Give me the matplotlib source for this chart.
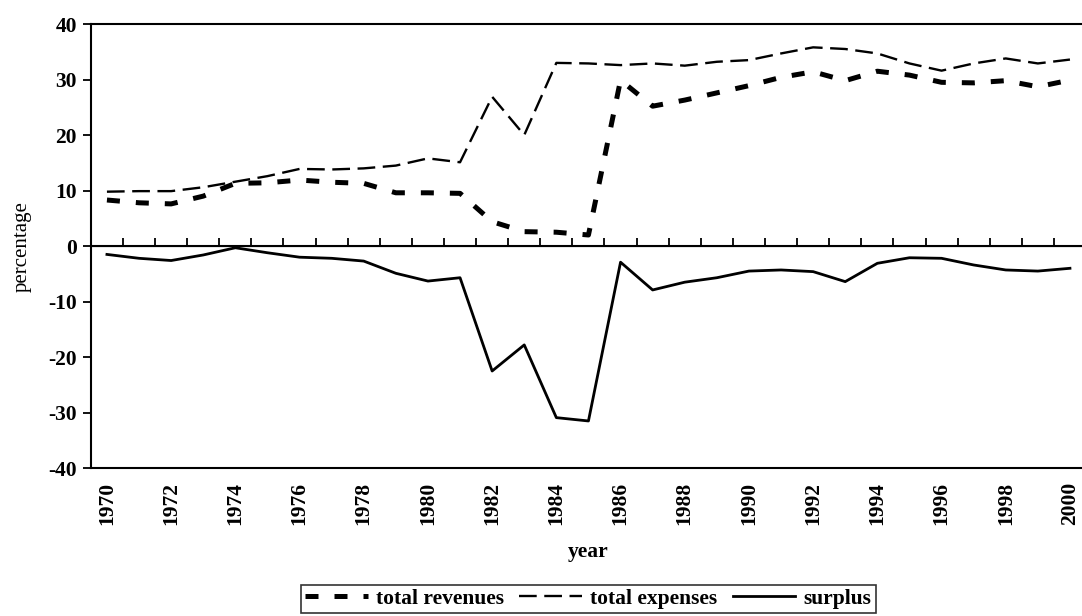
import matplotlib
matplotlib.use("Agg")
import matplotlib.pyplot as plt
import numpy as np

years = list(range(1970, 2001))
total_revenues = [8.3, 7.8, 7.6, 9.0, 11.3, 11.4, 11.9, 11.5, 11.3, 9.6,
                  9.6, 9.5, 4.4, 2.6, 2.5, 2.0, 29.9, 25.2, 26.3, 27.6,
                  28.9, 30.4, 31.4, 29.8, 31.5, 30.8, 29.5, 29.4, 29.8, 28.7, 29.9]
total_expenses = [9.8, 9.9, 9.9, 10.6, 11.6, 12.6, 13.9, 13.8, 14.0, 14.5,
                  15.8, 15.1, 26.9, 20.0, 33.0, 32.9, 32.6, 32.9, 32.5, 33.2,
                  33.5, 34.7, 35.8, 35.5, 34.7, 32.9, 31.6, 32.9, 33.8, 32.9, 33.6]
surplus = [-1.5, -2.2, -2.6, -1.6, -0.3, -1.2, -2.0, -2.2, -2.7, -4.9,
           -6.3, -5.7, -22.5, -17.8, -30.9, -31.5, -2.9, -7.9, -6.5, -5.7,
           -4.5, -4.3, -4.6, -6.4, -3.1, -2.1, -2.2, -3.4, -4.3, -4.5, -4.0]
year_labels = [str(y) for y in range(1970, 2001, 2)]
y_ticks = [-40, -30, -20, -10, 0, 10, 20, 30, 40]

plt.rcParams['font.family'] = ['Liberation Serif', 'DejaVu Serif']
FS = 15.5

fig = plt.figure(figsize=(10.82, 6.16), dpi=100)
ax = fig.add_axes([0.084, 0.240, 0.9197, 0.721])

ax.plot(years, total_revenues, color='black', lw=3.6, dashes=(2.6, 3.2),
        dash_capstyle='butt', label='total revenues')
ax.plot(years, total_expenses, color='black', lw=1.7, dashes=(7.5, 3.2),
        label='total expenses')
ax.plot(years, surplus, color='black', lw=2.0, label='surplus')

ax.set_xlim(1969.5, 2000.5)
ax.set_ylim(-40, 40)
ax.set_yticks(y_ticks)
ax.set_yticklabels([str(v) for v in y_ticks], fontsize=FS, fontweight='bold')
ax.tick_params(axis='y', direction='out', length=6, width=1.3, pad=4)

ax.set_xticks(list(range(1970, 2001, 2)))
ax.set_xticklabels(year_labels, rotation=90, fontsize=FS, fontweight='bold')
ax.tick_params(axis='x', length=0, pad=10)

for s in ['left', 'top', 'bottom']:
    ax.spines[s].set_linewidth(1.5)
ax.spines['right'].set_visible(False)

ax.axhline(0, color='black', lw=1.5)
sec = ax.secondary_xaxis(0.5)
sec.set_xticks([y + 0.5 for y in range(1969, 2000)])
sec.set_xticklabels([])
sec.tick_params(axis='x', direction='out', length=6, width=1.3)
sec.spines['bottom'].set_visible(False)

ax.set_ylabel('percentage', fontsize=15, labelpad=12)
ax.set_xlabel('year', fontsize=FS, fontweight='bold', labelpad=12)

leg = ax.legend(loc='upper center', bbox_to_anchor=(0.5, -0.262), ncol=3,
                frameon=True, fancybox=False, edgecolor='black',
                prop={'size': FS, 'weight': 'bold'}, handlelength=2.9,
                handletextpad=0.4, columnspacing=0.7, borderpad=0.2,
                borderaxespad=0)
leg.get_frame().set_linewidth(1.2)

fig.savefig('out.png', dpi=100)
